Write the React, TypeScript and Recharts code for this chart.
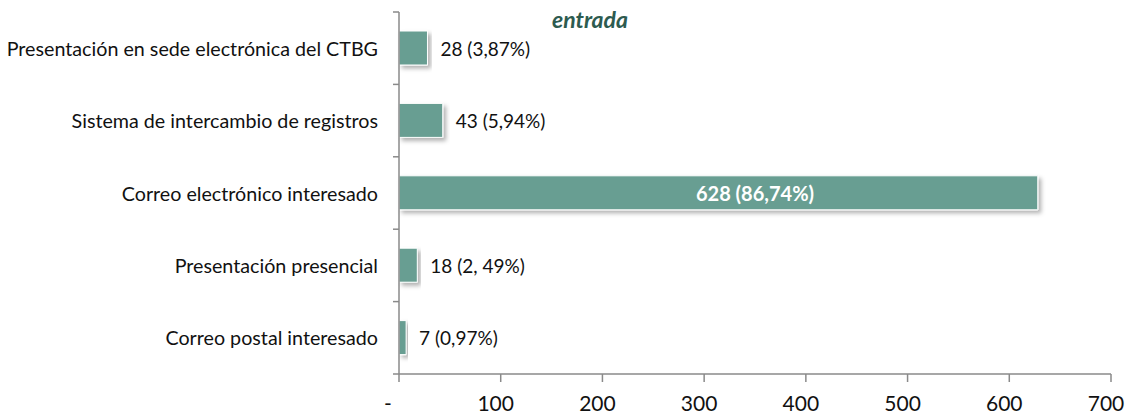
import { BarChart, Bar, XAxis, YAxis, LabelList } from "recharts";

// Datos (de arriba a abajo, como en el gráfico)
const categories = [
  "Presentación en sede electrónica del CTBG",
  "Sistema de intercambio de registros",
  "Correo electrónico interesado",
  "Presentación presencial",
  "Correo postal interesado",
];
const values = [28, 43, 628, 18, 7];
const valueLabels = ["28 (3,87%)", "43 (5,94%)", "628 (86,74%)", "18 (2, 49%)", "7 (0,97%)"];
const xTicks = [0, 100, 200, 300, 400, 500, 600, 700];
const X_MAX = 700;

const WIDTH = 1133;
const HEIGHT = 415;
const X_AXIS_H = 41;
const MARGIN = { top: 12, right: 22, bottom: 0, left: 0 };
const FONT = "Lato, 'Liberation Sans', sans-serif";
const AXIS = "#8A8A8A";
const BAR = "#689E92";

const data = categories.map((name, i) => ({ name, value: values[i], label: valueLabels[i] }));

function CategoryTick(props: any) {
  const { x, y, payload, index } = props;
  const half = payload?.offset || (HEIGHT - MARGIN.top - X_AXIS_H) / categories.length / 2;
  return (
    <g>
      <line x1={x - 6} x2={x} y1={y - half} y2={y - half} stroke={AXIS} strokeWidth={1.5} />
      {index === categories.length - 1 && (
        <line x1={x - 6} x2={x} y1={y + half} y2={y + half} stroke={AXIS} strokeWidth={1.5} />
      )}
      <text x={x - 21} y={y} textAnchor="end" dominantBaseline="central" fontSize={19.7} fill="#111" fontFamily={FONT}>
        {payload.value}
      </text>
    </g>
  );
}

function ValueTick(props: any) {
  const { x, y, payload } = props;
  const zero = payload.value === 0;
  return (
    <text x={zero ? x - 11 : x - 5} y={y} dy="0.71em" textAnchor="middle" fontSize={21} fill="#111" fontFamily={FONT}>
      {zero ? "-" : payload.value}
    </text>
  );
}

function ValueLabel(props: any) {
  const { x, y, width, height, value, index } = props;
  const txt = valueLabels[index];
  if (value > 300) {
    // Excel centra esta etiqueta en el área de trazado, no en la barra
    const cx = x + (width * (X_MAX / 2)) / value;
    return (
      <text x={cx} y={y + height / 2} textAnchor="middle" dominantBaseline="central"
        fontSize={20} fontWeight={700} fill="#fff" fontFamily={FONT}>
        {txt}
      </text>
    );
  }
  return (
    <text x={x + width + 13} y={y + height / 2} textAnchor="start" dominantBaseline="central"
      fontSize={19} fill="#111" fontFamily={FONT}>
      {txt}
    </text>
  );
}

export default function App() {
  return (
    <div style={{ position: "absolute", left: 0, top: 0, width: WIDTH, height: HEIGHT, background: "#fff" }}>
      <BarChart width={WIDTH} height={HEIGHT} data={data} layout="vertical" margin={MARGIN}>
        <defs>
          <filter id="barShadow" x="-5%" y="-20%" width="120%" height="160%">
            <feDropShadow dx={3} dy={3} stdDeviation={2} floodColor="#000" floodOpacity={0.3} />
          </filter>
        </defs>
        <text x={590} y={28} textAnchor="middle" fontSize={23} fontWeight={700} fontStyle="italic"
          fill="#2D5B4F" fontFamily={FONT}>
          entrada
        </text>
        <XAxis
          type="number"
          domain={[0, X_MAX]}
          ticks={xTicks}
          stroke={AXIS}
          strokeWidth={1.5}
          tickSize={8}
          tickMargin={14}
          tick={<ValueTick />}
          height={X_AXIS_H}
        />
        <YAxis
          type="category"
          dataKey="name"
          width={399}
          stroke={AXIS}
          strokeWidth={1.5}
          tickLine={false}
          tickSize={0}
          tickMargin={0}
          tick={<CategoryTick />}
          interval={0}
        />
        <Bar dataKey="value" fill={BAR} stroke="#ffffff" strokeWidth={1} barSize={34}
          filter="url(#barShadow)" isAnimationActive={false}>
          <LabelList dataKey="value" content={<ValueLabel />} />
        </Bar>
      </BarChart>
    </div>
  );
}
